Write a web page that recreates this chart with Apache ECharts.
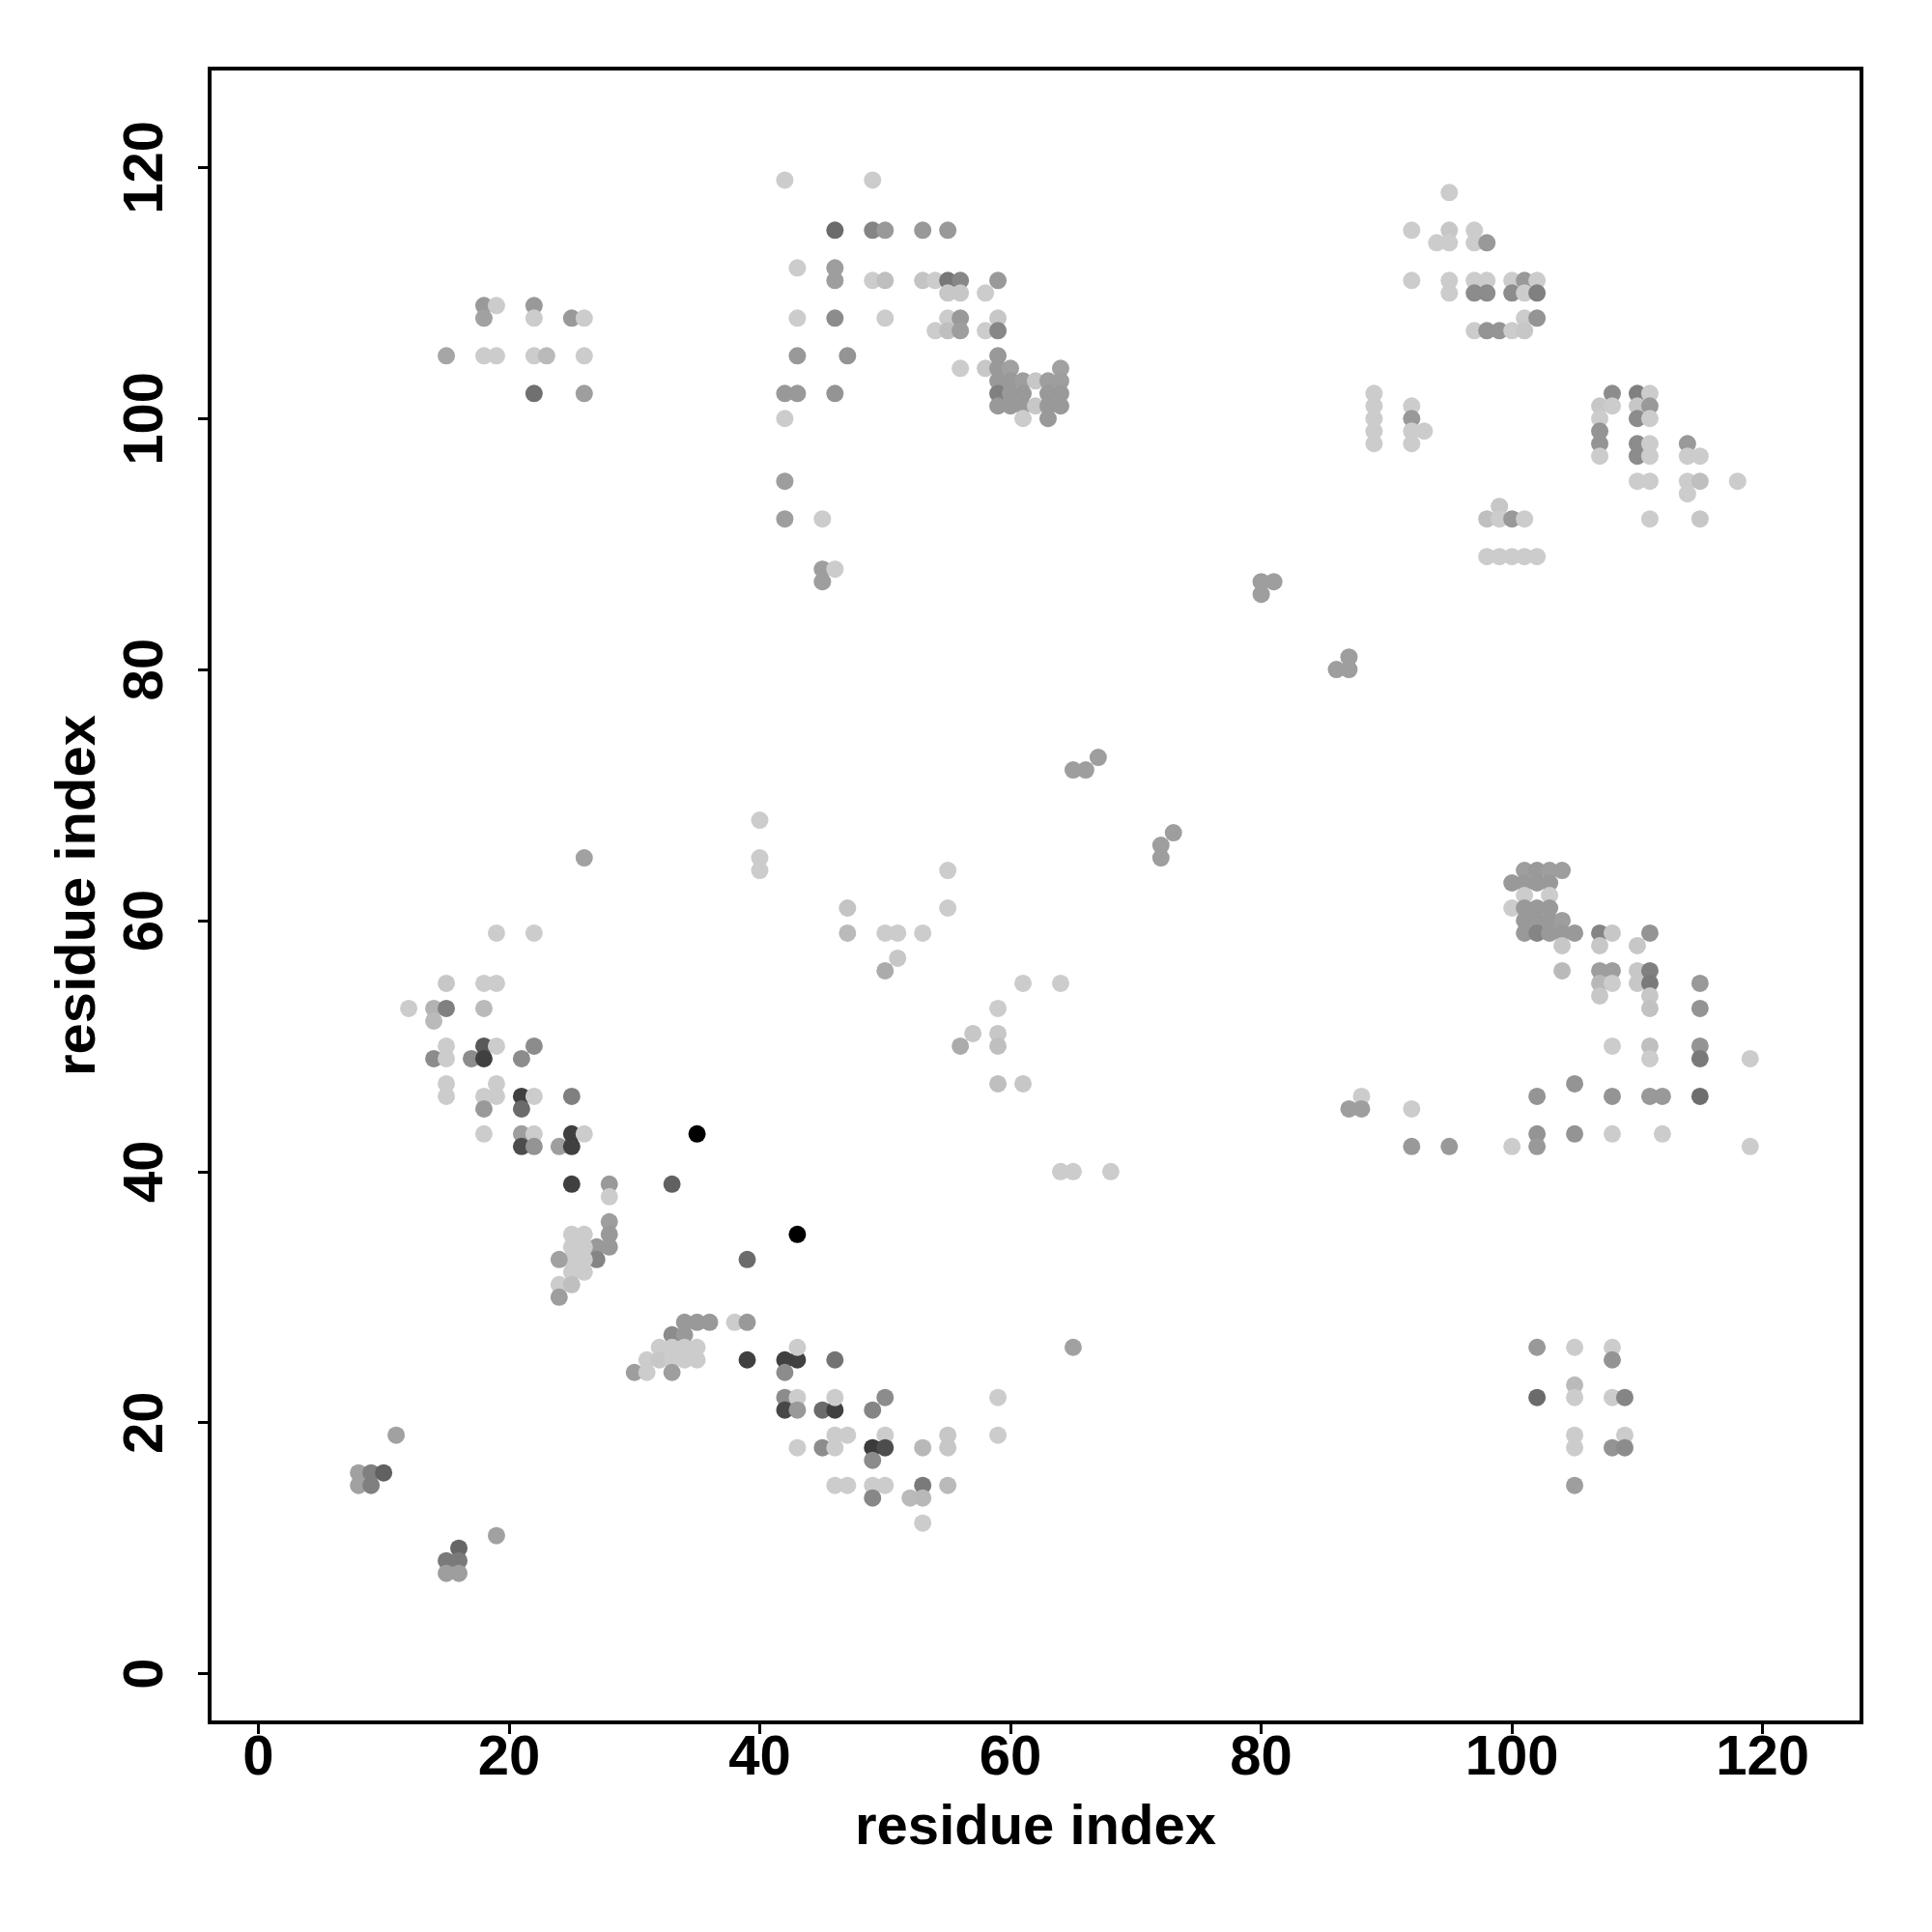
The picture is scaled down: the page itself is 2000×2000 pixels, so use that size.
<!DOCTYPE html>
<html><head><meta charset="utf-8">
<script src="https://cdn.jsdelivr.net/npm/echarts@6/dist/echarts.min.js"></script>
<style>html,body{margin:0;padding:0;background:#fff}#c{width:2000px;height:2000px}</style>
</head><body><div id="c"></div>
<script>
// residue i (x), residue j (y), contact score (drawn as grey level: higher = darker)
const residueX = [
18,19,18,22,22,25,26,15,18,19,22,23,26,22,26,
42,49,46,49,50,53,55,43,46,46,49,50,53,54,55,56,59,55,56,58,43,46,50,55,56,59,54,55,56,58,59,43,47,59,56,58,59,60,64,
59,60,61,62,63,64,59,60,61,63,64,59,60,61,62,63,64,42,61,63,42,43,46,
42,42,45,45,46,45,
95,92,95,97,94,95,97,98,92,95,97,98,100,101,102,95,97,98,100,101,102,101,102,97,98,99,100,101,
89,89,89,89,89,92,92,92,93,92,
108,110,111,107,108,110,111,107,110,111,107,107,107,110,111,110,111,114,114,115,
110,111,114,115,118,114,111,115,99,98,99,100,101,98,99,100,101,102,
80,81,80,87,86,87,67,65,66,73,72,72,
26,19,22,15,18,19,12,14,15,18,14,15,18,19,22,14,15,17,18,21,
15,15,19,18,19,21,22,18,21,25,18,21,22,25,26,21,22,24,25,25,28,28,
33,28,28,28,27,27,25,26,25,26,25,26,24,26,25,24,25,24,39,
34,35,36,38,39,33,34,32,33,34,35,31,32,33,34,35,30,31,33,39,
11,8,9,10,8,9,19,16,15,16,15,16,35,43,
40,40,40,55,55,47,47,50,51,53,51,50,61,64,59,57,59,59,56,59,61,64,65,68,
42,43,43,42,46,65,42,43,42,43,45,46,46,50,49,59,59,46,47,50,43,45,46,49,50,49,53,55,55,
46,47,49,50,49,53,55,52,53,53,
101,102,103,104,100,101,102,103,101,103,100,101,102,103,101,102,103,104,
101,102,103,104,105,107,108,111,104,107,110,104,107,108,110,111,107,108,110,111,115,
107,111,111,115,108,111,115,111,115,119,105,102,108,111,112,115,88,87,88,92,
102,105,108,112,92,95,100,102,119,
102,105,108,108,102,105,105,108,109,105,105,109,108,109,105
];
const residueY = [
109,109,108,109,108,108,108,105,105,105,105,105,105,102,102,
119,119,115,115,115,115,115,112,112,111,111,111,111,111,111,111,111,110,110,110,108,108,108,108,108,108,107,107,107,107,107,105,105,105,104,104,104,104,104,
103,103,103,103,103,103,102,102,102,102,102,101,101,101,101,101,101,100,100,100,102,102,102,
95,92,92,88,88,87,
118,115,115,115,114,114,114,114,111,111,111,111,111,111,111,110,110,110,110,110,110,108,108,107,107,107,107,107,
102,101,100,99,98,101,100,99,99,98,
102,102,102,101,101,101,101,100,100,100,99,98,97,98,98,97,97,98,97,97,
95,95,95,95,95,94,92,92,93,92,92,92,92,89,89,89,89,89,
87,87,86,81,80,80,73,72,72,67,66,65,
65,59,59,55,55,55,53,53,53,53,52,50,50,50,50,49,49,49,49,49,
47,46,47,46,46,46,46,45,45,46,43,43,43,43,43,42,42,42,42,39,39,38,
39,36,35,34,34,33,35,35,34,34,33,33,33,32,32,31,31,30,33,
28,28,28,28,28,27,27,26,26,26,26,25,25,25,25,25,24,24,24,25,
19,16,16,16,15,15,11,10,9,9,8,8,43,35,
68,65,64,64,61,61,59,59,59,59,57,56,55,55,53,51,51,50,50,47,47,40,40,40,
25,25,26,24,25,26,22,22,21,21,21,21,22,22,21,22,19,19,19,19,18,18,18,18,18,17,18,19,18,
15,15,15,15,14,15,15,14,14,12,
64,64,64,64,63,63,63,63,62,62,61,61,61,61,60,60,60,60,
59,59,59,59,59,59,59,59,58,58,58,56,56,56,56,56,55,55,55,55,55,
54,54,53,53,50,50,50,49,49,49,47,46,46,46,46,46,46,45,45,45,
43,43,43,43,42,42,42,42,42,
26,26,26,25,22,23,22,22,22,19,18,19,18,18,15
];
const contactScore = [
.40,.20,.37,.40,.20,.40,.20,.35,.20,.20,.20,.27,.20,.56,.38,
.20,.20,.58,.48,.40,.40,.40,.20,.38,.38,.20,.25,.23,.20,.53,.47,.40,.22,.22,.20,.20,.45,.20,.20,.40,.22,.20,.25,.38,.20,.47,.40,.42,.40,.20,.22,.40,.37,.37,
.40,.40,.38,.22,.38,.38,.50,.40,.40,.40,.40,.40,.40,.40,.22,.40,.40,.20,.20,.40,.40,.40,.42,
.38,.38,.20,.38,.20,.38,
.20,.20,.22,.20,.20,.20,.20,.40,.20,.20,.20,.20,.20,.40,.20,.20,.45,.45,.45,.20,.50,.20,.42,.20,.42,.42,.20,.22,
.20,.20,.20,.20,.20,.20,.40,.20,.20,.20,
.45,.50,.20,.22,.20,.22,.40,.20,.45,.20,.42,.42,.20,.45,.20,.45,.20,.40,.20,.20,
.20,.20,.20,.25,.20,.20,.20,.22,.22,.25,.20,.40,.20,.20,.20,.20,.20,.20,
.38,.38,.38,.38,.38,.38,.38,.38,.38,.38,.38,.38,
.37,.20,.20,.22,.20,.20,.20,.30,.50,.27,.27,.20,.65,.20,.45,.45,.20,.45,.75,.45,
.20,.20,.20,.20,.20,.75,.20,.40,.58,.50,.20,.38,.20,.75,.20,.70,.42,.38,.75,.75,.40,.20,
.62,.38,.40,.40,.40,.48,.20,.20,.20,.20,.20,.20,.37,.20,.20,.20,.25,.38,.58,
.40,.40,.40,.20,.40,.45,.40,.20,.20,.20,.20,.20,.22,.20,.20,.20,.38,.20,.38,.75,
.37,.37,.50,.62,.37,.50,.37,.60,.52,.52,.38,.38,1.0,1.0,
.20,.20,.20,.20,.20,.23,.27,.20,.20,.20,.22,.33,.20,.20,.20,.22,.22,.25,.33,.25,.22,.20,.20,.20,
.75,.75,.20,.45,.55,.37,.45,.20,.72,.40,.58,.75,.20,.45,.48,.20,.20,.20,.20,.20,.20,.45,.20,.77,.70,.45,.28,.22,.22,
.20,.20,.20,.20,.47,.52,.27,.27,.28,.20,
.38,.40,.38,.38,.40,.40,.40,.40,.20,.20,.20,.40,.40,.40,.40,.40,.40,.38,
.40,.48,.40,.40,.40,.48,.22,.42,.22,.22,.22,.27,.38,.38,.22,.50,.28,.20,.22,.52,.40,
.22,.22,.24,.42,.20,.25,.42,.20,.52,.20,.42,.42,.42,.40,.40,.57,.20,.38,.38,.20,
.42,.42,.20,.20,.40,.40,.20,.40,.20,
.40,.20,.20,.42,.58,.27,.20,.20,.48,.20,.20,.20,.42,.45,.38
];
const tickValues = [0, 20, 40, 60, 80, 100, 120];
const axisTitle = 'residue index';

const points = residueX.map((x, i) => [x, residueY[i], contactScore[i]]);

const font = 'Liberation Sans, Arial, Helvetica, sans-serif';
const chart = echarts.init(document.getElementById('c'), null, {renderer: 'canvas'});
const axisCommon = {
  type: 'value',
  min: -3.88,
  max: 127.88,
  splitLine: {show: false},
  axisLine: {show: false, onZero: false},
  axisTick: {show: true, customValues: tickValues, length: 12, lineStyle: {color: '#000', width: 3}},
  name: axisTitle,
  nameLocation: 'middle',
  nameTextStyle: {fontSize: 58, fontWeight: 'bold', color: '#000', fontFamily: font}
};
chart.setOption({
  animation: false,
  backgroundColor: '#fff',
  grid: {left: 217, top: 71, width: 1710, height: 1712, show: true, borderColor: '#000', borderWidth: 4, backgroundColor: 'transparent'},
  xAxis: Object.assign({}, axisCommon, {
    position: 'bottom',
    nameGap: 81,
    axisLabel: {customValues: tickValues, fontSize: 58, fontWeight: 'bold', color: '#000', fontFamily: font, margin: 9}
  }),
  yAxis: Object.assign({}, axisCommon, {
    position: 'left',
    nameGap: 106,
    axisLabel: {customValues: tickValues, rotate: 90, fontSize: 58, fontWeight: 'bold', color: '#000', fontFamily: font, margin: 36}
  }),
  visualMap: {show: false, type: 'continuous', dimension: 2, min: 0, max: 1, inRange: {color: ['#ffffff', '#000000']}},
  series: [{
    type: 'scatter',
    data: points,
    symbol: 'circle',
    symbolSize: 18,
    itemStyle: {opacity: 1},
    emphasis: {disabled: true}
  }]
});
</script>
</body></html>
